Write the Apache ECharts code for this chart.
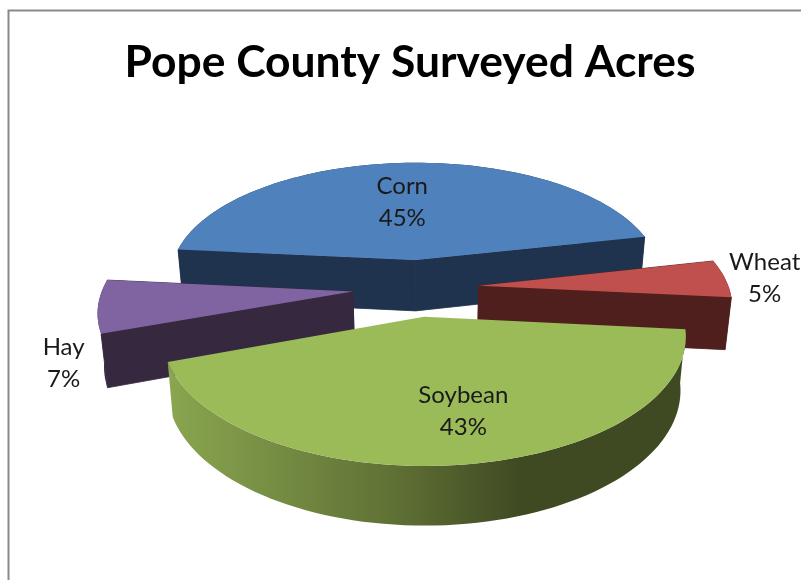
<!DOCTYPE html>
<html>
<head>
<meta charset="utf-8">
<style>html,body{margin:0;padding:0;background:#fff}#c{width:801px;height:580px}</style>
<script src="https://cdn.jsdelivr.net/npm/echarts@6/dist/echarts.min.js"></script>
</head>
<body>
<div id="c"></div>
<script>
const titleText = 'Pope County Surveyed Acres';
const categories = ['Corn', 'Wheat', 'Soybean', 'Hay'];
const percents = [45, 5, 43, 7];

const firstAngle = -84.5;
const explode = [0.24, 0.24, 0.24, 0.265];
const explodeTurn = [0, 0, 2.5, 0];
const topColors = ['#4F81BD', '#C0504D', '#9BBB59', '#8064A2'];
const wallColors = ['#1F334E', '#4F1F1E', '#3F4A23', '#35283F'];
const labelLocal = [[-0.06, -0.56], [1.158, -0.06], [0.135, 0.67], [-1.04, 0.55]];
const drawOrder = [0, 1, 3, 2];

const view = { cx: 419, cy: 287.5, A: 250, B: 118.5, p: 0.143, depth: 52, shrink: 0.98 };
const rad = d => d * Math.PI / 180;

function project(u, v, low) {
  const w = 1 - view.p * v;
  let x = view.A * u / w, y = view.B * v / w;
  if (low) { x *= view.shrink; y = y * view.shrink + view.depth / w; }
  return [view.cx + x, view.cy + y];
}

const total = percents.reduce((a, b) => a + b, 0);
let acc = firstAngle;
const slices = percents.map((val, i) => {
  const a0 = acc, a1 = acc + val / total * 360;
  acc = a1;
  const mid = rad((a0 + a1) / 2 + explodeTurn[i]);
  return { a0, a1, ou: explode[i] * Math.sin(mid), ov: -explode[i] * Math.cos(mid) };
});

function rimPoints(s, low) {
  const pts = [], n = Math.max(8, Math.round((s.a1 - s.a0) / 2));
  for (let k = 0; k <= n; k++) {
    const a = rad(s.a0 + (s.a1 - s.a0) * k / n);
    pts.push(project(s.ou + Math.sin(a), s.ov - Math.cos(a), low));
  }
  return pts;
}

function renderSlice(params, api) {
  const i = api.value(0);
  const s = slices[i];
  const top = rimPoints(s, false), bot = rimPoints(s, true);
  const apexT = project(s.ou, s.ov, false), apexB = project(s.ou, s.ov, true);
  const isSoy = categories[i] === 'Soybean';
  const wallFill = isSoy
    ? new echarts.graphic.LinearGradient(0, 0, 1, 0, [
        { offset: 0, color: '#8AA650' },
        { offset: 0.44, color: '#5F7034' },
        { offset: 0.68, color: '#3F4A23' },
        { offset: 1, color: '#3F4A23' }
      ])
    : wallColors[i];
  const n = top.length - 1;
  const lbl = labelLocal[i];
  const lp = project(s.ou + lbl[0], s.ov + lbl[1], false);
  const flat = { fill: wallColors[i], stroke: wallColors[i], lineWidth: 0.8 };
  const cuts = isSoy ? [] : [
    { type: 'polygon', shape: { points: [apexT, top[0], bot[0], apexB] }, style: flat },
    { type: 'polygon', shape: { points: [apexT, top[n], bot[n], apexB] }, style: flat }
  ];
  return {
    type: 'group',
    children: cuts.concat([
      { type: 'polygon', shape: { points: top.concat(bot.slice().reverse()) }, style: { fill: wallFill } },
      { type: 'polygon', shape: { points: [apexT].concat(top) }, style: { fill: topColors[i] } },
      {
        type: 'text', z2: 50,
        style: {
          x: lp[0], y: lp[1], text: categories[i] + '\n' + percents[i] + '%',
          align: 'center', verticalAlign: 'middle',
          font: '400 24px Lato, sans-serif', lineHeight: 32, fill: '#1a1a1a'
        }
      }
    ])
  };
}

const chart = echarts.init(document.getElementById('c'), null, { renderer: 'canvas' });
chart.setOption({
  animation: false,
  backgroundColor: '#fff',
  title: {
    text: titleText, left: 405, top: 36, textAlign: 'center',
    textStyle: { fontFamily: 'Lato', fontWeight: 'bold', fontSize: 44.4, color: '#000' }
  },
  graphic: [{
    type: 'rect', shape: { x: 8.5, y: 10.5, width: 900, height: 700 },
    style: { fill: 'none', stroke: '#8A8A8A', lineWidth: 2 }, silent: true
  }],
  series: [{
    type: 'custom', coordinateSystem: 'none', silent: true,
    renderItem: renderSlice,
    data: drawOrder.map(i => [i])
  }]
});
</script>
</body>
</html>
